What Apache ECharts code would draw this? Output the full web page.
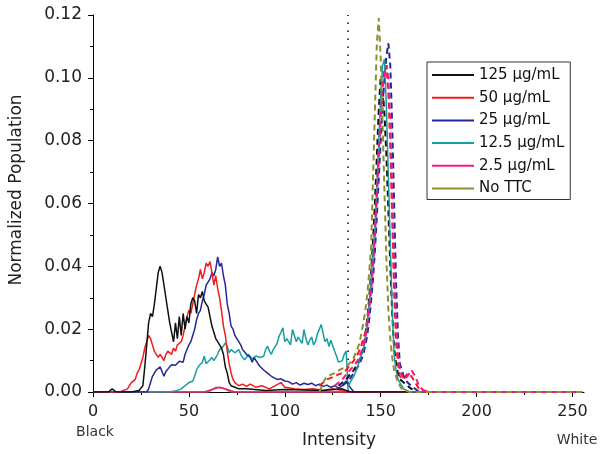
<!DOCTYPE html>
<html>
<head>
<meta charset="utf-8">
<script src="https://cdn.jsdelivr.net/npm/echarts@6/dist/echarts.min.js"></script>
<style>html,body{margin:0;padding:0;background:#fff;}#c{width:600px;height:454px;}</style>
</head>
<body>
<div id="c"></div>
<script>
// ---- category / legend names ----
const seriesNames = ['125 \u03bcg/mL', '50 \u03bcg/mL', '25 \u03bcg/mL', '12.5 \u03bcg/mL', '2.5 \u03bcg/mL', 'No TTC'];
const seriesColors = ['#111111', '#f21c1c', '#26269c', '#169e9e', '#f5168a', '#8e8e2e'];
const xTicks = [0, 50, 100, 150, 200, 250];
const xMinorTicks = [25, 75, 125, 175, 225];
const yTicks = [0, 0.02, 0.04, 0.06, 0.08, 0.10, 0.12];
const thresholdX = 133;

// ---- 125 ug/mL (solid, left population) ----
const x125 = [0, 8, 10, 12, 20, 24, 26, 27, 28, 29, 30, 31, 32, 33, 34, 35, 36, 37, 38, 39, 40, 41, 42, 43, 44, 45, 46, 47, 48, 49, 50, 51, 52, 53, 54, 55, 56, 57, 58, 59, 60, 61, 62, 63, 64, 65, 66, 67, 68, 69, 70, 71, 72, 74, 76, 80, 90, 100, 120, 130, 134, 255];
const y125 = [0, 0, 0.001, 0, 0, 0.0005, 0.002, 0.008, 0.015, 0.022, 0.025, 0.024, 0.028, 0.033, 0.038, 0.040, 0.038, 0.034, 0.030, 0.026, 0.022, 0.019, 0.016, 0.022, 0.017, 0.024, 0.018, 0.025, 0.020, 0.024, 0.022, 0.028, 0.030, 0.029, 0.025, 0.031, 0.030, 0.032, 0.029, 0.028, 0.027, 0.024, 0.021, 0.019, 0.017, 0.016, 0.015, 0.014, 0.012, 0.008, 0.006, 0.003, 0.002, 0.0015, 0.001, 0.001, 0.0005, 0.0008, 0.0005, 0.001, 0, 0];
// ---- 125 ug/mL (dashed, peak) ----
const x125p = [128, 132, 136, 139, 141, 142, 143, 144, 145, 146, 147, 148, 149, 150, 151, 152, 153, 154, 155, 156, 157, 158, 159, 160, 162, 164, 166, 170, 255];
const y125p = [0.002, 0.004, 0.007, 0.010, 0.014, 0.018, 0.023, 0.030, 0.038, 0.048, 0.060, 0.075, 0.090, 0.100, 0.097, 0.088, 0.075, 0.058, 0.040, 0.025, 0.014, 0.009, 0.006, 0.004, 0.003, 0.002, 0.001, 0, 0];

// ---- 50 ug/mL ----
const x50 = [0, 14, 16, 18, 19, 20, 21, 22, 23, 24, 25, 26, 27, 28, 29, 30, 31, 32, 33, 34, 35, 36, 37, 38, 39, 40, 41, 42, 43, 44, 45, 46, 47, 48, 49, 50, 51, 52, 53, 54, 55, 56, 57, 58, 59, 60, 61, 62, 63, 64, 65, 66, 67, 68, 69, 70, 71, 72, 73, 74, 76, 78, 80, 82, 85, 88, 92, 95, 98, 100, 105, 110, 115, 120, 125, 130, 134, 255];
const y50 = [0, 0, 0.0005, 0.001, 0.002, 0.003, 0.0035, 0.004, 0.006, 0.007, 0.009, 0.011, 0.014, 0.016, 0.018, 0.017, 0.015, 0.013, 0.012, 0.011, 0.012, 0.011, 0.010, 0.012, 0.013, 0.0135, 0.012, 0.014, 0.013, 0.015, 0.0145, 0.016, 0.018, 0.021, 0.024, 0.026, 0.025, 0.028, 0.031, 0.034, 0.036, 0.039, 0.036, 0.038, 0.041, 0.040, 0.0415, 0.038, 0.034, 0.037, 0.033, 0.030, 0.026, 0.021, 0.018, 0.013, 0.009, 0.006, 0.004, 0.003, 0.002, 0.0025, 0.0018, 0.0025, 0.0015, 0.002, 0.001, 0.002, 0.003, 0.0015, 0.001, 0.0008, 0.001, 0.0005, 0.001, 0.0005, 0, 0];
const x50p = [118, 122, 126, 128, 130, 132, 134, 136, 138, 140, 142, 143, 144, 145, 146, 147, 148, 149, 150, 151, 152, 153, 154, 155, 156, 157, 158, 159, 160, 162, 164, 166, 168, 170, 175, 255];
const y50p = [0.002, 0.004, 0.005, 0.0056, 0.006, 0.007, 0.0085, 0.010, 0.012, 0.015, 0.019, 0.023, 0.028, 0.034, 0.042, 0.052, 0.064, 0.077, 0.090, 0.099, 0.103, 0.104, 0.095, 0.078, 0.055, 0.032, 0.016, 0.009, 0.005, 0.004, 0.006, 0.005, 0.003, 0.001, 0, 0];

// ---- 25 ug/mL ----
const x25 = [0, 28, 29, 30, 31, 32, 33, 34, 35, 36, 37, 38, 39, 40, 41, 42, 43, 44, 45, 46, 47, 48, 49, 50, 51, 52, 53, 54, 55, 56, 57, 58, 59, 60, 61, 62, 63, 64, 65, 66, 67, 68, 69, 70, 71, 72, 73, 74, 75, 76, 77, 78, 79, 80, 81, 82, 83, 84, 85, 86, 87, 88, 89, 90, 91, 92, 93, 94, 96, 98, 100, 102, 104, 106, 108, 110, 112, 114, 116, 118, 120, 122, 124, 126, 128, 130, 132, 134, 136, 255];
const y25 = [0, 0, 0.001, 0.003, 0.005, 0.006, 0.007, 0.0075, 0.008, 0.0065, 0.005, 0.0065, 0.007, 0.008, 0.0087, 0.009, 0.0085, 0.009, 0.0098, 0.010, 0.0095, 0.012, 0.0135, 0.015, 0.016, 0.018, 0.020, 0.023, 0.025, 0.026, 0.029, 0.031, 0.034, 0.035, 0.036, 0.038, 0.037, 0.039, 0.043, 0.040, 0.041, 0.037, 0.034, 0.028, 0.025, 0.021, 0.020, 0.018, 0.017, 0.016, 0.015, 0.0135, 0.014, 0.012, 0.0115, 0.011, 0.0095, 0.011, 0.010, 0.009, 0.0082, 0.0088, 0.007, 0.0065, 0.006, 0.0055, 0.005, 0.0045, 0.004, 0.0042, 0.0035, 0.0033, 0.0025, 0.003, 0.0022, 0.0028, 0.0024, 0.0028, 0.002, 0.0025, 0.0018, 0.0022, 0.0015, 0.002, 0.0012, 0.002, 0.0035, 0.0015, 0, 0];
const x25p = [130, 133, 136, 139, 141, 143, 144, 145, 146, 147, 148, 149, 150, 151, 152, 153, 154, 155, 156, 157, 158, 159, 160, 162, 164, 166, 170, 255];
const y25p = [0.002, 0.0034, 0.006, 0.009, 0.012, 0.018, 0.023, 0.029, 0.036, 0.045, 0.056, 0.068, 0.080, 0.091, 0.100, 0.107, 0.111, 0.104, 0.085, 0.060, 0.035, 0.018, 0.009, 0.005, 0.003, 0.002, 0, 0];

// ---- 12.5 ug/mL (solid throughout) ----
const x12 = [0, 40, 44, 46, 48, 50, 52, 53, 54, 55, 56, 57, 58, 59, 60, 61, 62, 63, 64, 65, 66, 67, 68, 69, 70, 71, 72, 73, 74, 75, 76, 77, 78, 79, 80, 81, 82, 83, 84, 85, 86, 87, 88, 89, 90, 91, 92, 93, 94, 95, 96, 97, 98, 99, 100, 101, 102, 103, 104, 105, 106, 107, 108, 109, 110, 111, 112, 113, 114, 115, 116, 117, 118, 119, 120, 121, 122, 123, 124, 125, 126, 127, 128, 129, 130, 131, 132, 133, 134];
const y12 = [0, 0, 0.0005, 0.001, 0.002, 0.003, 0.0034, 0.005, 0.007, 0.0082, 0.0087, 0.0095, 0.0114, 0.009, 0.0095, 0.0103, 0.011, 0.010, 0.0105, 0.012, 0.0135, 0.013, 0.0146, 0.0156, 0.0145, 0.0125, 0.0135, 0.013, 0.0125, 0.013, 0.0135, 0.012, 0.011, 0.0103, 0.011, 0.012, 0.0114, 0.0105, 0.0103, 0.0115, 0.012, 0.011, 0.0108, 0.0114, 0.0135, 0.0146, 0.013, 0.012, 0.0135, 0.014, 0.0155, 0.0177, 0.019, 0.0204, 0.016, 0.017, 0.0175, 0.015, 0.0199, 0.018, 0.016, 0.0175, 0.017, 0.0155, 0.0199, 0.017, 0.015, 0.0165, 0.0175, 0.015, 0.016, 0.0185, 0.019, 0.0215, 0.0185, 0.016, 0.017, 0.0145, 0.0165, 0.0167, 0.013, 0.0114, 0.0095, 0.009, 0.010, 0.012, 0.013, 0.0005, 0];
const x12p = [133, 134, 135, 136, 137, 138, 139, 140, 141, 142, 143, 144, 145, 146, 147, 148, 149, 150, 151, 152, 153, 154, 155, 156, 157, 158, 159, 160, 162, 165, 255];
const y12p = [0.0018, 0.003, 0.004, 0.005, 0.0065, 0.0082, 0.010, 0.012, 0.0135, 0.017, 0.022, 0.028, 0.036, 0.045, 0.052, 0.065, 0.080, 0.094, 0.104, 0.106, 0.090, 0.069, 0.047, 0.026, 0.012, 0.007, 0.004, 0.003, 0.001, 0, 0];

// ---- 2.5 ug/mL ----
const x2 = [0, 58, 62, 66, 70, 74, 130, 255];
const y2 = [0, 0, 0.0008, 0.0015, 0.0008, 0, 0, 0];
const x2p = [126, 130, 134, 136, 138, 140, 142, 143, 144, 145, 146, 147, 148, 149, 150, 151, 152, 153, 154, 155, 156, 157, 158, 159, 160, 162, 164, 166, 168, 170, 173, 255];
const y2p = [0.002, 0.004, 0.007, 0.0082, 0.010, 0.013, 0.017, 0.021, 0.026, 0.032, 0.040, 0.050, 0.062, 0.075, 0.088, 0.097, 0.102, 0.104, 0.100, 0.085, 0.062, 0.040, 0.022, 0.012, 0.007, 0.004, 0.005, 0.007, 0.005, 0.002, 0, 0];

// ---- No TTC ----
const x0 = [0, 60, 64, 68, 72, 130, 255];
const y0 = [0, 0, 0.0015, 0.0012, 0, 0, 0];
const x0p = [118, 120, 122, 126, 129, 132, 134, 136, 138, 139, 140, 141, 142, 143, 144, 145, 146, 147, 148, 149, 150, 151, 152, 153, 154, 155, 156, 157, 158, 159, 161, 165, 255];
const y0p = [0, 0.003, 0.005, 0.006, 0.0072, 0.008, 0.0093, 0.011, 0.014, 0.0157, 0.019, 0.022, 0.026, 0.031, 0.038, 0.046, 0.068, 0.090, 0.111, 0.119, 0.106, 0.085, 0.063, 0.042, 0.026, 0.017, 0.011, 0.007, 0.005, 0.003, 0.001, 0, 0];

const zip = (xs, ys) => xs.map((x, i) => [x, ys[i]]);

const solidX = [x125, x50, x25, x12, x2, x0];
const solidY = [y125, y50, y25, y12, y2, y0];
const peakX = [x125p, x50p, x25p, x12p, x2p, x0p];
const peakY = [y125p, y50p, y25p, y12p, y2p, y0p];

const series = [];
for (let i = 0; i < 6; i++) {
  series.push({
    name: seriesNames[i], type: 'line', showSymbol: false, animation: false,
    color: seriesColors[i], z: 2 + (5 - i),
    lineStyle: { color: seriesColors[i], width: 1.5 },
    data: zip(solidX[i], solidY[i])
  });
}
for (let i = 0; i < 6; i++) {
  const isTeal = i === 3;
  series.push({
    name: seriesNames[i], type: 'line', showSymbol: false, animation: false,
    color: seriesColors[i], z: 10 + i,
    lineStyle: { color: seriesColors[i], width: isTeal ? 1.5 : 2, type: isTeal ? 'solid' : [6, 4] },
    data: zip(peakX[i], peakY[i])
  });
}
series.push({
  name: 'threshold', type: 'line', showSymbol: false, animation: false, silent: true, z: 1,
  lineStyle: { color: '#000', width: 1.5, type: [1.5, 6.5] },
  data: [[thresholdX, 0], [thresholdX, 0.12]]
});

const font = '"DejaVu Sans", Verdana, sans-serif';
const chart = echarts.init(document.getElementById('c'), null, { renderer: 'canvas' });
chart.setOption({
  animation: false,
  backgroundColor: '#fff',
  grid: { left: 93, right: 16, top: 15, bottom: 62 },
  legend: {
    data: seriesNames, orient: 'vertical', left: 427, top: 62,
    icon: 'rect', itemWidth: 42, itemHeight: 2, itemGap: 4.7,
    padding: [4, 6, 2, 5], borderColor: '#333', borderWidth: 1,
    textStyle: { fontFamily: font, fontSize: 15, color: '#111', lineHeight: 18 },
    selectedMode: false
  },
  xAxis: [{
    type: 'value', min: 0, max: 256, interval: 50,
    axisLine: { show: true, lineStyle: { color: '#000', width: 1 } },
    axisTick: { show: true, length: 5, lineStyle: { color: '#000' }, customValues: xTicks },
    axisLabel: { fontFamily: font, fontSize: 16, color: '#222', margin: 12, customValues: xTicks },
    splitLine: { show: false }
  }, {
    type: 'value', min: 0, max: 256, interval: 50, position: 'bottom',
    axisLine: { show: false },
    axisTick: { show: true, length: 3, lineStyle: { color: '#000' }, customValues: xMinorTicks },
    axisLabel: { show: false },
    splitLine: { show: false }
  }],
  yAxis: {
    type: 'value', min: 0, max: 0.12, interval: 0.02,
    axisLine: { show: true, lineStyle: { color: '#000', width: 1 } },
    axisTick: { show: true, length: 5, lineStyle: { color: '#000' } },
    minorTick: { show: true, splitNumber: 2, length: 3, lineStyle: { color: '#000' } },
    axisLabel: { fontFamily: font, fontSize: 17, color: '#222', margin: 11, formatter: v => v.toFixed(2) },
    splitLine: { show: false }
  },
  graphic: [
    { type: 'text', x: 95, y: 432, style: { text: 'Black', font: '14px ' + font, fill: '#333', align: 'center', verticalAlign: 'middle' } },
    { type: 'text', x: 577, y: 440, style: { text: 'White', font: '14px ' + font, fill: '#333', align: 'center', verticalAlign: 'middle' } },
    { type: 'text', x: 339, y: 441, style: { text: 'Intensity', font: '17px ' + font, fill: '#222', align: 'center', verticalAlign: 'middle' } },
    { type: 'text', x: 17, y: 190, rotation: Math.PI / 2, style: { text: 'Normalized Population', font: '17px ' + font, fill: '#222', align: 'center', verticalAlign: 'middle' } }
  ],
  series: series
});
</script>
</body>
</html>
